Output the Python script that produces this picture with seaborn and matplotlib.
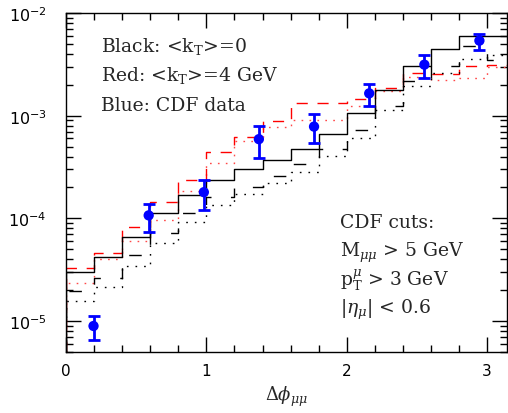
import numpy as np
import pandas as pd
import matplotlib
matplotlib.use("Agg")
import matplotlib.pyplot as plt
import seaborn as sns
from matplotlib.ticker import (LogLocator, MultipleLocator, NullFormatter,
                               LogFormatterMathtext)

# bin edges in delta-phi (width 0.2, last bin closes at pi)
bin_edges = [0.0, 0.2, 0.4, 0.6, 0.8, 1.0, 1.2, 1.4, 1.6, 1.8, 2.0,
             2.2, 2.4, 2.6, 2.8, 3.0, np.pi]

# <kT> = 0 predictions (black)
black_solid = [2.98e-5, 4.20e-5, 6.58e-5, 1.13e-4, 1.69e-4, 2.37e-4, 3.04e-4, 3.74e-4,
               4.75e-4, 6.70e-4, 1.06e-3, 1.77e-3, 3.07e-3, 4.43e-3, 6.01e-3, 6.01e-3]
black_dashed = [1.95e-5, 2.64e-5, 4.36e-5, 7.24e-5, 1.13e-4, 1.61e-4, 2.03e-4, 2.61e-4,
                3.40e-4, 4.75e-4, 7.19e-4, 1.23e-3, 2.19e-3, 3.02e-3, 4.81e-3, 3.49e-3]
black_dotted = [1.58e-5, 2.15e-5, 3.46e-5, 5.75e-5, 9.20e-5, 1.34e-4, 1.74e-4, 2.19e-4,
                2.82e-4, 4.02e-4, 6.08e-4, 1.13e-3, 1.95e-3, 2.61e-3, 3.57e-3, 3.93e-3]

# <kT> = 4 GeV predictions (red)
red_dashed = [3.28e-5, 4.58e-5, 8.23e-5, 1.46e-4, 2.37e-4, 4.48e-4, 6.22e-4, 8.84e-4,
              1.32e-3, 1.32e-3, 1.46e-3, 1.85e-3, 2.61e-3, 2.55e-3, 3.03e-3, 3.14e-3]
red_dotted = [2.33e-5, 4.03e-5, 6.03e-5, 9.54e-5, 1.84e-4, 3.47e-4, 5.66e-4, 7.73e-4,
              9.10e-4, 9.10e-4, 1.24e-3, 1.74e-3, 2.37e-3, 2.23e-3, 2.32e-3, 2.96e-3]

# CDF data
cdf_x = [0.196, 0.589, 0.982, 1.374, 1.767, 2.160, 2.553, 2.945]
cdf_y = [8.96e-6, 1.07e-4, 1.80e-4, 5.91e-4, 7.83e-4, 1.65e-3, 3.14e-3, 5.38e-3]
cdf_hi = [1.12e-5, 1.39e-4, 2.37e-4, 7.96e-4, 1.03e-3, 2.04e-3, 3.90e-3, 6.29e-3]
cdf_lo = [6.49e-6, 7.36e-5, 1.22e-4, 3.86e-4, 5.40e-4, 1.23e-3, 2.32e-3, 4.37e-3]

y_min, y_max = 5e-6, 1e-2

sns.set_style("ticks")
plt.rcParams["font.family"] = ["DejaVu Serif"]
plt.rcParams["mathtext.fontset"] = "dejavuserif"

fig = plt.figure(figsize=(5.08, 4.14), dpi=100)
ax = fig.add_axes([66 / 508, 1 - 353 / 414, 441 / 508, 339 / 414])


def step_frame(values):
    # start at the floor so the rising edge at 0 is drawn, then steps-post
    xs = [bin_edges[0]] + list(bin_edges)
    ys = [y_min] + list(values) + [values[-1]]
    return pd.DataFrame({"x": xs, "y": ys})


curves = [
    (red_dotted, "#ff4848", (0, (1.2, 4.5)), 1.0),
    (red_dashed, "#ff0000", (0, (8, 7)), 1.0),
    (black_dotted, "#000000", (0, (1.2, 5.0)), 1.0),
    (black_dashed, "#000000", (0, (9, 14)), 1.0),
    (black_solid, "#000000", "-", 1.0),
]
for vals, col, ls, lw in curves:
    df = step_frame(vals)
    sns.lineplot(data=df, x="x", y="y", estimator=None, sort=False,
                 drawstyle="steps-post", color=col, linestyle=ls, linewidth=lw, ax=ax)

cy = np.array(cdf_y)
yerr = [cy - np.array(cdf_lo), np.array(cdf_hi) - cy]
ax.errorbar(cdf_x, cdf_y, yerr=yerr, fmt="none", ecolor="#0000ff",
            elinewidth=2.0, capsize=4.5, capthick=2.0, zorder=5)
sns.scatterplot(x=cdf_x, y=cdf_y, color="#0000ff", s=55, edgecolor="none",
                zorder=6, ax=ax)

ax.set_yscale("log")
ax.set_xlim(0, np.pi)
ax.set_ylim(y_min, y_max)

ax.xaxis.set_major_locator(MultipleLocator(1))
ax.xaxis.set_minor_locator(MultipleLocator(0.2))
ax.yaxis.set_major_locator(LogLocator(base=10, numticks=10))
ax.yaxis.set_major_formatter(LogFormatterMathtext())
ax.yaxis.set_minor_locator(LogLocator(base=10, subs=np.arange(2, 10), numticks=10))
ax.yaxis.set_minor_formatter(NullFormatter())

ax.tick_params(which="both", direction="in", top=True, right=True, width=1.0,
               colors="black")
ax.tick_params(which="major", length=11)
ax.tick_params(which="minor", length=5)
ax.tick_params(axis="x", pad=8, labelsize=11)
ax.tick_params(axis="y", pad=14, labelsize=11.5)
for lab in ax.get_xticklabels() + ax.get_yticklabels():
    lab.set_fontfamily("DejaVu Sans")
for s in ax.spines.values():
    s.set_linewidth(1.0)
    s.set_color("black")

ax.set_xlabel(r"$\Delta\phi_{\mu\mu}$", fontsize=13, labelpad=4)
ax.set_ylabel("")

txt = dict(transform=ax.transAxes, fontsize=13.5, ha="left", va="baseline")
ax.text(0.079, 0.888, r"Black: <k$_\mathregular{T}$>=0", **txt)
ax.text(0.079, 0.801, r"Red: <k$_\mathregular{T}$>=4 GeV", **txt)
ax.text(0.079, 0.715, "Blue: CDF data", **txt)

ax.text(0.621, 0.369, "CDF cuts:", **txt)
ax.text(0.621, 0.284, r"M$_{\mu\mu}$ > 5 GeV", **txt)
ax.text(0.621, 0.199, r"p$_\mathregular{T}^{\mu}$ > 3 GeV", **txt)
ax.text(0.621, 0.115, r"|$\eta_{\mu}$| < 0.6", **txt)

fig.savefig("out.png", dpi=100)
